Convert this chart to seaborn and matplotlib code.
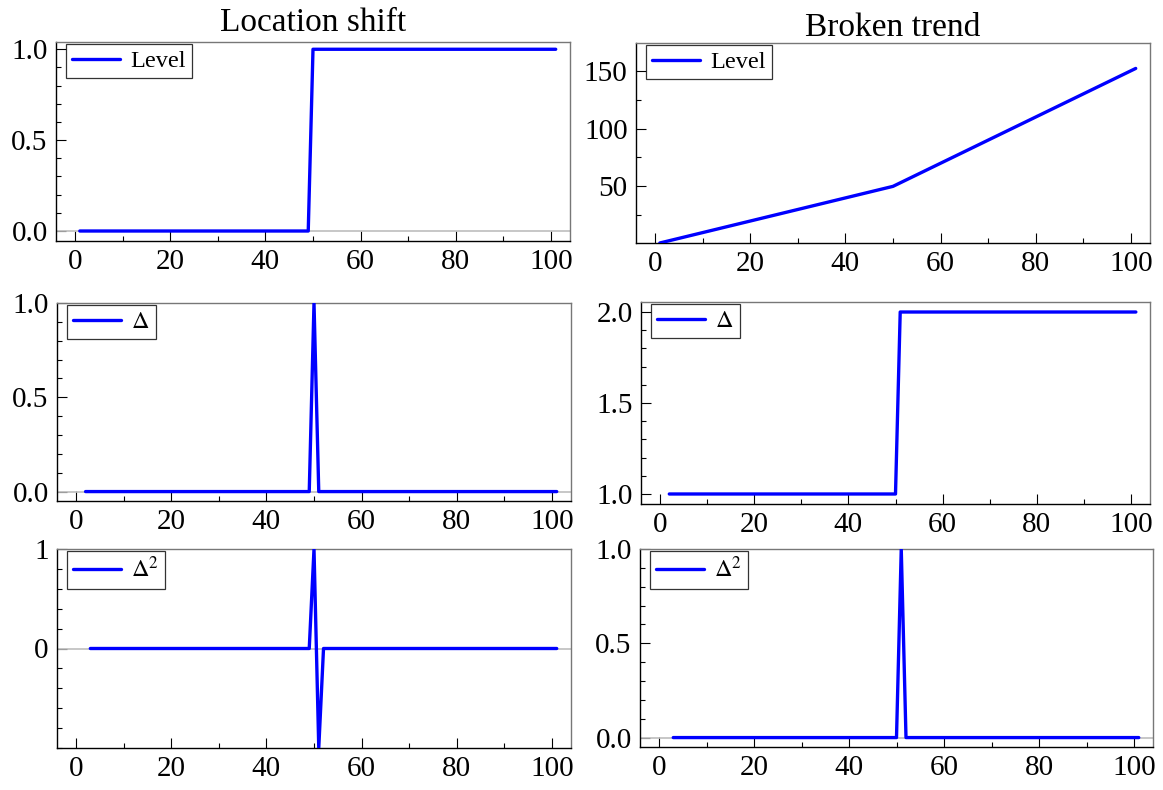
import matplotlib
matplotlib.use("Agg")
import matplotlib.pyplot as plt
import seaborn as sns
from matplotlib.ticker import MultipleLocator, FixedLocator

# データ（折れ点のみ）
shift_level_t = [1, 49, 50, 101]
shift_level = [0, 0, 1, 1]
shift_delta_t = [2, 49, 50, 51, 101]
shift_delta = [0, 0, 1, 0, 0]
shift_delta2_t = [3, 49, 50, 51, 52, 101]
shift_delta2 = [0, 0, 1, -1, 0, 0]

trend_level_t = [1, 50, 101]
trend_level = [1, 50, 152]
trend_delta_t = [2, 50, 51, 101]
trend_delta = [1, 1, 2, 2]
trend_delta2_t = [3, 50, 51, 52, 101]
trend_delta2 = [0, 0, 1, 0, 0]

titles = ["Location shift", "Broken trend"]
labels = ["Level", r"$\Delta$", r"$\Delta^2$"]

sns.set_style("ticks")
plt.rcParams["font.family"] = ["Liberation Serif", "DejaVu Serif"]
plt.rcParams["mathtext.fontset"] = "stix"
for key in ["text.color", "axes.labelcolor", "xtick.color", "ytick.color"]:
    plt.rcParams[key] = "black"

fig = plt.figure(figsize=(11.63, 7.9), dpi=100)

W, H = 1163, 790


def make_axes(left, right, top, bottom):
    # ピクセル位置から軸を作る
    return fig.add_axes([left / W, 1 - bottom / H, (right - left) / W, (bottom - top) / H])


panels = [
    # (left, right, top, bottom), x, y, label, ylim, major, minor, zero line
    ((56, 570, 42, 241), shift_level_t, shift_level, labels[0], (-0.055, 1.04), [0, 0.5, 1.0], 0.1, True),
    ((636, 1150, 43, 243), trend_level_t, trend_level, labels[0], (1, 174), [50, 100, 150], 25, False),
    ((57, 571, 303, 501), shift_delta_t, shift_delta, labels[1], (-0.05, 1.0), [0, 0.5, 1.0], 0.1, True),
    ((641, 1150, 302, 504), trend_delta_t, trend_delta, labels[1], (0.945, 2.055), [1.0, 1.5, 2.0], 0.1, False),
    ((57, 571, 549, 748), shift_delta2_t, shift_delta2, labels[2], (-1, 1), [0, 1], 0.2, True),
    ((640, 1153, 549, 747), trend_delta2_t, trend_delta2, labels[2], (-0.05, 1.0), [0, 0.5, 1.0], 0.1, True),
]

for i, (pos, x, y, lab, ylim, major, minor, zero) in enumerate(panels):
    ax = make_axes(*pos)
    if zero:
        ax.axhline(0, color="#bdbdbd", lw=1.2, zorder=1)
    sns.lineplot(x=x, y=y, ax=ax, color="blue", lw=2.4, label=lab, estimator=None, zorder=3)
    ax.set_xlim(-4, 104)
    ax.set_ylim(*ylim)
    ax.xaxis.set_major_locator(MultipleLocator(20))
    ax.xaxis.set_minor_locator(MultipleLocator(10))
    ax.yaxis.set_major_locator(FixedLocator(major))
    ax.yaxis.set_minor_locator(MultipleLocator(minor))
    if ylim[1] > 10 or major == [0, 1]:
        ax.yaxis.set_major_formatter(plt.FuncFormatter(lambda v, p: f"{v:.0f}"))
    else:
        ax.yaxis.set_major_formatter(plt.FuncFormatter(lambda v, p: f"{v:.1f}"))
    ax.tick_params(which="major", direction="in", length=7.5, width=0.8, labelsize=21, pad=6)
    ax.tick_params(which="minor", direction="in", length=3.5, width=0.8)
    ax.set_xlabel("")
    ax.set_ylabel("")
    for side in ["left", "bottom"]:
        ax.spines[side].set_color("black")
        ax.spines[side].set_linewidth(1.0)
    for side in ["top", "right"]:
        ax.spines[side].set_color("#777777")
        ax.spines[side].set_linewidth(1.0)
    leg = ax.legend(loc="upper left", bbox_to_anchor=(0.019, 0.99), borderaxespad=0,
                    fontsize=17.5, frameon=True, fancybox=False, handlelength=2.0,
                    handletextpad=0.4, borderpad=0.25)
    leg.get_frame().set_edgecolor("black")
    leg.get_frame().set_linewidth(0.9)
    if i < 2:
        ax.set_title(titles[i], fontsize=24, pad=8 if i == 0 else 4)

plt.savefig("out.png", dpi=100)
